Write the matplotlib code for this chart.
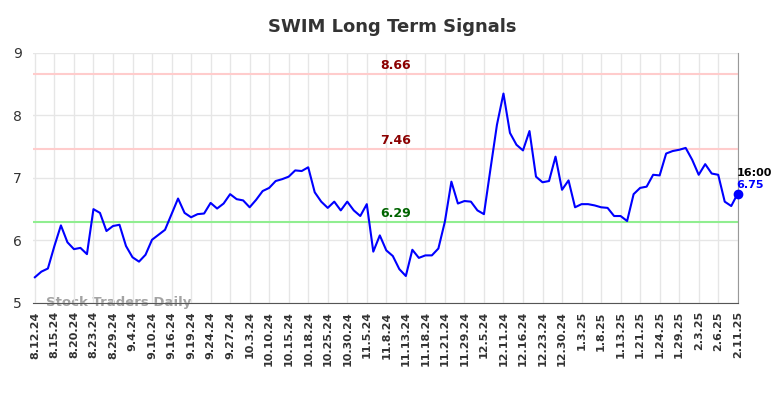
import matplotlib
matplotlib.use('Agg')
import matplotlib.pyplot as plt

# Closing values, one per session (109 points, labels every 3rd)
values = [
    5.41, 5.50, 5.55, 5.91, 6.24, 5.97, 5.86, 5.88, 5.78, 6.50,
    6.44, 6.15, 6.23, 6.25, 5.91, 5.73, 5.66, 5.77, 6.01, 6.09,
    6.17, 6.42, 6.67, 6.44, 6.37, 6.42, 6.43, 6.60, 6.51, 6.59,
    6.74, 6.66, 6.64, 6.53, 6.65, 6.79, 6.84, 6.95, 6.98, 7.02,
    7.12, 7.11, 7.17, 6.77, 6.62, 6.52, 6.62, 6.48, 6.62, 6.48,
    6.39, 6.58, 5.82, 6.08, 5.84, 5.75, 5.54, 5.43, 5.85, 5.72,
    5.76, 5.76, 5.87, 6.30, 6.94, 6.59, 6.63, 6.62, 6.48, 6.42,
    7.14, 7.85, 8.35, 7.72, 7.53, 7.44, 7.75, 7.02, 6.93, 6.95,
    7.34, 6.81, 6.96, 6.53, 6.58, 6.58, 6.56, 6.53, 6.52, 6.39,
    6.39, 6.31, 6.74, 6.84, 6.86, 7.05, 7.04, 7.39, 7.43, 7.45,
    7.48, 7.29, 7.05, 7.22, 7.07, 7.05, 6.62, 6.55, 6.75,
]

tick_labels = [
    '8.12.24', '8.15.24', '8.20.24', '8.23.24', '8.29.24', '9.4.24', '9.10.24',
    '9.16.24', '9.19.24', '9.24.24', '9.27.24', '10.3.24', '10.10.24', '10.15.24',
    '10.18.24', '10.25.24', '10.30.24', '11.5.24', '11.8.24', '11.13.24', '11.18.24',
    '11.21.24', '11.29.24', '12.5.24', '12.11.24', '12.16.24', '12.23.24', '12.30.24',
    '1.3.25', '1.8.25', '1.13.25', '1.21.25', '1.24.25', '1.29.25', '2.3.25',
    '2.6.25', '2.11.25',
]

upper_levels = [8.66, 7.46]
lower_level = 6.29
last_time = '16:00'

fig = plt.figure(figsize=(7.84, 3.98), dpi=100)
ax = fig.add_axes([0.042, 0.239, 0.899, 0.628])

x = list(range(len(values)))
ax.plot(x, values, color='#0000ff', linewidth=1.5, zorder=3)
ax.plot(x[-1], values[-1], 'o', color='#0000ff', markersize=6, zorder=4, clip_on=False)

# signal levels
for lvl in upper_levels:
    ax.axhline(lvl, color='#ffcccc', linewidth=1.5, zorder=2)
    ax.text(55.4, lvl + 0.04, f'{lvl:.2f}', color='#8b0000', fontsize=9,
            fontweight='bold', ha='center', va='bottom')
ax.axhline(lower_level, color='#90ee90', linewidth=1.5, zorder=2)
ax.text(55.4, lower_level + 0.04, f'{lower_level:.2f}', color='#006400', fontsize=9,
        fontweight='bold', ha='center', va='bottom')

# last value annotation
ax.text(x[-1] - 0.2, values[-1] + 0.25, last_time, color='black', fontsize=8,
        fontweight='bold', ha='left', va='bottom')
ax.text(x[-1] - 0.2, values[-1] + 0.06, f'{values[-1]:.2f}', color='#0000ff', fontsize=8,
        fontweight='bold', ha='left', va='bottom')

ax.set_xlim(-0.3, len(values) - 1)
ax.set_ylim(5, 9)
ax.set_yticks([5, 6, 7, 8, 9])
ax.set_xticks(x[::3])
ax.set_xticklabels(tick_labels, rotation=90, fontsize=8, fontweight='bold', color='#333333')
ax.tick_params(axis='y', labelsize=10, colors='#333333', length=0, pad=8)
ax.tick_params(axis='x', length=0, pad=6)
ax.grid(True, color='#e6e6e6', linewidth=1, zorder=0)

for side in ['left', 'top']:
    ax.spines[side].set_visible(False)
ax.spines['right'].set_color('#999999')
ax.spines['bottom'].set_color('#555555')

ax.text(0.018, 0.0, 'Stock Traders Daily', transform=ax.transAxes, fontsize=9.5,
        fontweight='bold', color='#999999', alpha=0.9, ha='left', va='center', zorder=1)

fig.suptitle('SWIM Long Term Signals', fontsize=13, fontweight='bold', color='#333333', y=0.955)

plt.savefig('out.png', dpi=100)
plt.close()
